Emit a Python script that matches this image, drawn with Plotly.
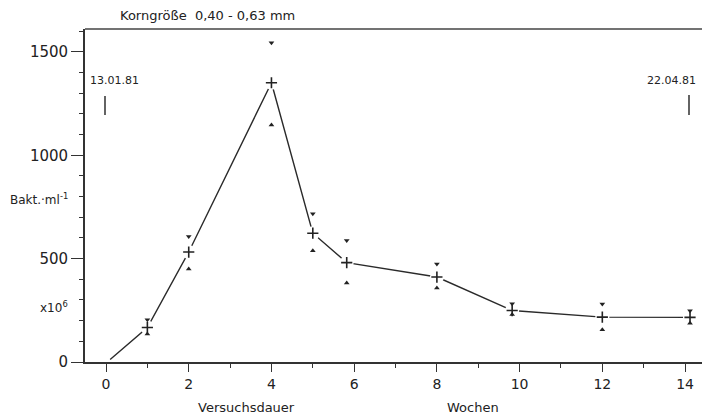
import plotly.graph_objects as go

# Data
weeks = [1.0, 2.0, 4.0, 5.0, 5.82, 8.0, 9.82, 12.0, 14.12]
mean_vals = [167, 532, 1351, 623, 481, 411, 249, 217, 216]
upper_vals = [204, 607, 1545, 717, 588, 474, 282, 280, 248]
lower_vals = [135, 450, 1147, 538, 382, 358, 230, 156, 188]
line_start_week = [0.1]
line_start_val = [12]

x_ticks = [0, 2, 4, 6, 8, 10, 12, 14]
y_ticks = [0, 500, 1000, 1500]

FONT = "DejaVu Sans"
INK = "#222222"

W, H = 702, 419
L, R, T, B = 85, 0, 29, 57


def px(x):
    return (x - L) / (W - L - R)


def py(y):
    return (H - B - y) / (H - T - B)


fig = go.Figure()

# connecting line
fig.add_trace(go.Scatter(
    x=line_start_week + weeks, y=line_start_val + mean_vals,
    mode="lines", line=dict(color="#2a2a2a", width=1.4),
    hoverinfo="skip", showlegend=False))

# white gaps around the mean markers
fig.add_trace(go.Scatter(
    x=weeks, y=mean_vals, mode="markers",
    marker=dict(symbol="circle", size=14, color="white", line=dict(width=0)),
    hoverinfo="skip", showlegend=False))

# mean markers
fig.add_trace(go.Scatter(
    x=weeks, y=mean_vals, mode="markers",
    marker=dict(symbol="cross-thin", size=8, line=dict(color=INK, width=1.6)),
    showlegend=False))

# upper / lower markers
fig.add_trace(go.Scatter(
    x=weeks, y=upper_vals, mode="markers",
    marker=dict(symbol="triangle-down", size=5, color=INK),
    showlegend=False))
fig.add_trace(go.Scatter(
    x=weeks, y=lower_vals, mode="markers",
    marker=dict(symbol="triangle-up", size=5, color=INK),
    showlegend=False))

fig.update_xaxes(
    range=[-0.508, 14.41], tickvals=x_ticks, ticktext=[str(v) for v in x_ticks],
    ticks="outside", ticklen=8, tickwidth=1.3, tickcolor="#333",
    showline=True, linecolor="#333", linewidth=1.5,
    showgrid=False, zeroline=False,
    minor=dict(dtick=1, tick0=0, ticks="outside", ticklen=4, tickwidth=1.2, tickcolor="#333"),
    tickfont=dict(family=FONT, size=14, color=INK))

fig.update_yaxes(
    range=[0, 1611], tickvals=y_ticks, ticktext=[str(v) for v in y_ticks],
    ticks="outside", ticklen=12, tickwidth=1.3, tickcolor="#333",
    showline=True, linecolor="#333", linewidth=1.8,
    showgrid=False, zeroline=False,
    minor=dict(dtick=100, tick0=0, ticks="outside", ticklen=4, tickwidth=1.2, tickcolor="#333"),
    tickfont=dict(family=FONT, size=15, color=INK))

shapes = [
    # top frame line
    dict(type="line", xref="paper", yref="paper", x0=0, x1=1, y0=1, y1=1,
         line=dict(color="#444", width=1.5)),
    # date markers
    dict(type="line", xref="paper", yref="paper", x0=px(105), x1=px(105), y0=py(96), y1=py(115),
         line=dict(color=INK, width=1.4)),
    dict(type="line", xref="paper", yref="paper", x0=px(689), x1=px(689), y0=py(95), y1=py(115),
         line=dict(color=INK, width=1.4)),
]

ann = [
    dict(text="Korngröße  0,40 - 0,63 mm", x=px(207), y=py(15), size=13),
    dict(text="13.01.81", x=px(114), y=py(80), size=11),
    dict(text="22.04.81", x=px(698), y=py(80), size=11, xanchor="right"),
    dict(text="Bakt.·ml<sup>-1</sup>", x=px(70), y=py(199), xanchor="right", size=12),
    dict(text="x10<sup>6</sup>", x=px(70), y=py(307), xanchor="right", size=12),
    dict(text="Versuchsdauer", x=px(246), y=py(407), size=13),
    dict(text="Wochen", x=px(473), y=py(407), size=13),
]
annotations = []
for a in ann:
    a = dict(a)
    size = a.pop("size")
    d = dict(xref="paper", yref="paper", showarrow=False, xanchor="center", yanchor="middle",
             font=dict(family=FONT, size=size, color=INK))
    d.update(a)
    annotations.append(d)

fig.update_layout(
    width=W, height=H,
    margin=dict(l=L, r=R, t=T, b=B),
    plot_bgcolor="white", paper_bgcolor="white",
    shapes=shapes, annotations=annotations,
    showlegend=False)

fig.write_html("out.html", config={"displayModeBar": False},
               post_script="document.body.style.margin='0';document.body.style.overflow='hidden';")
